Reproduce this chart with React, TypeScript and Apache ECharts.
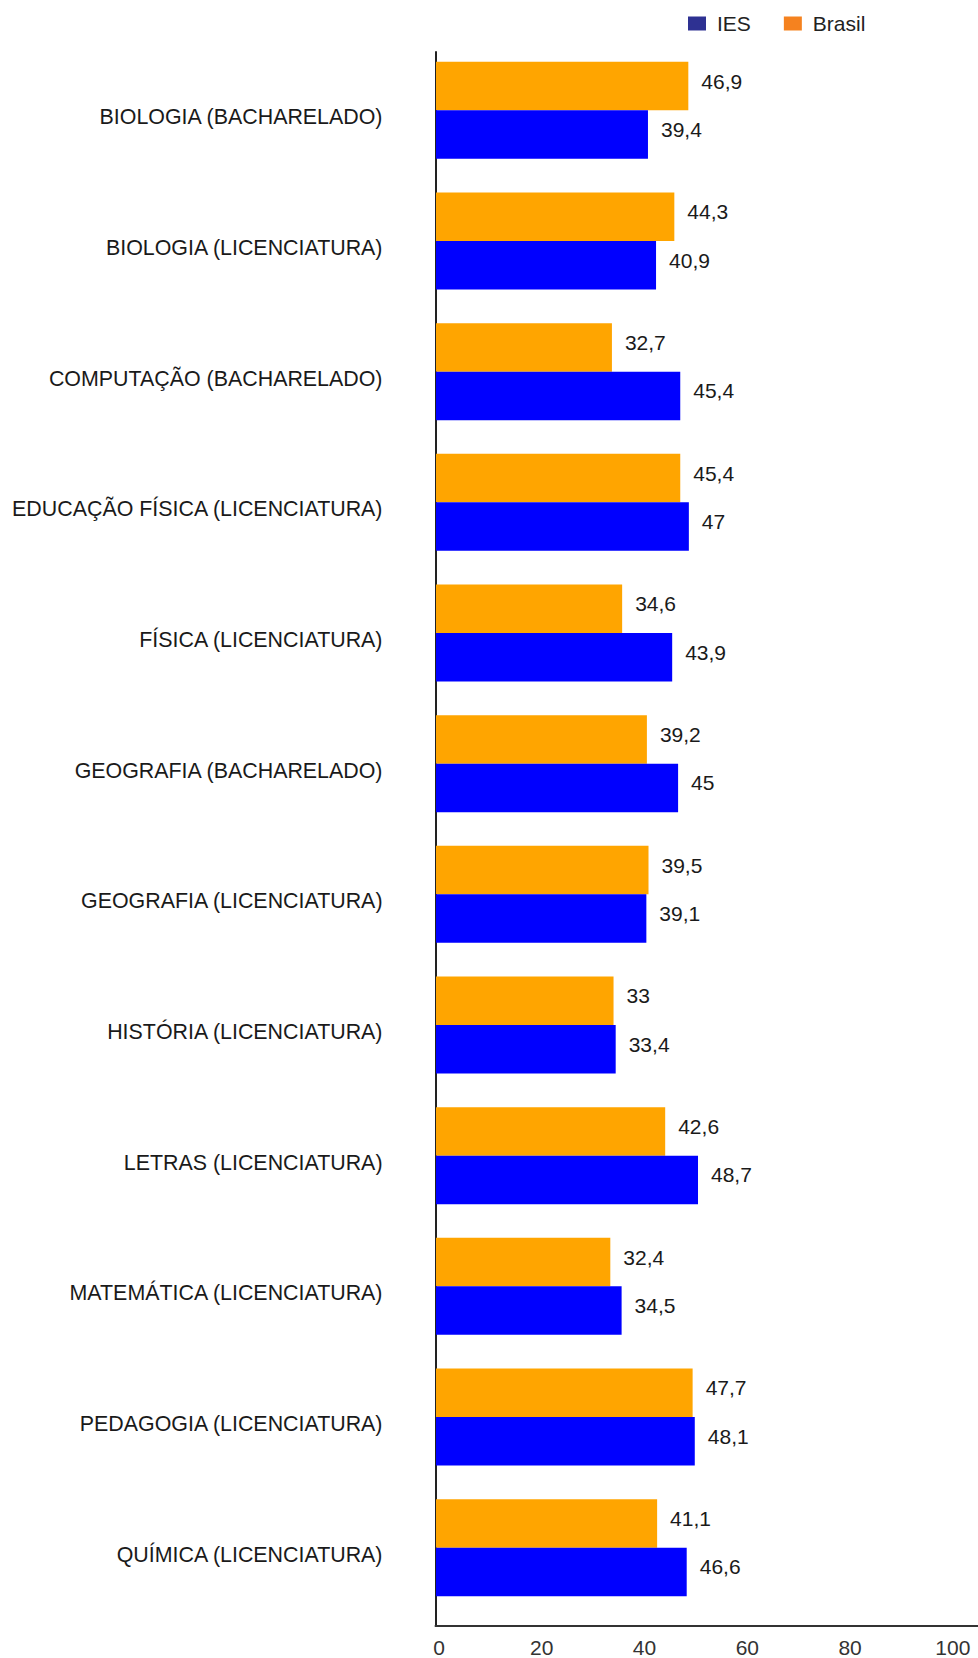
import React, { useEffect, useRef } from "react";
import * as echarts from "echarts";

const categories = [
  "BIOLOGIA (BACHARELADO)",
  "BIOLOGIA (LICENCIATURA)",
  "COMPUTAÇÃO (BACHARELADO)",
  "EDUCAÇÃO FÍSICA (LICENCIATURA)",
  "FÍSICA (LICENCIATURA)",
  "GEOGRAFIA (BACHARELADO)",
  "GEOGRAFIA (LICENCIATURA)",
  "HISTÓRIA (LICENCIATURA)",
  "LETRAS (LICENCIATURA)",
  "MATEMÁTICA (LICENCIATURA)",
  "PEDAGOGIA (LICENCIATURA)",
  "QUÍMICA (LICENCIATURA)",
];

const iesValues = [39.4, 40.9, 45.4, 47, 43.9, 45, 39.1, 33.4, 48.7, 34.5, 48.1, 46.6];
const brasilValues = [46.9, 44.3, 32.7, 45.4, 34.6, 39.2, 39.5, 33, 42.6, 32.4, 47.7, 41.1];

const tickLabels = [0, 20, 40, 60, 80, 100];

const fmt = (v: number) => String(v).replace(".", ",");

const FONT = "Liberation Sans, Arial, sans-serif";

export default function App() {
  const ref = useRef<HTMLDivElement>(null);
  useEffect(() => {
    if (!ref.current) return;
    const chart = echarts.init(ref.current, null, { renderer: "svg" });
    const labelStyle = {
      show: true,
      position: "right" as const,
      distance: 13,
      offset: [0, -5],
      fontSize: 21,
      color: "#1a1a1a",
      fontFamily: FONT,
      formatter: (p: any) => fmt(p.value),
    };
    chart.setOption({
      animation: false,
      textStyle: { fontFamily: FONT },
      legend: {
        left: 683,
        top: 8,
        icon: "rect",
        itemWidth: 18,
        itemHeight: 14,
        itemGap: 33,
        textStyle: { fontSize: 21, color: "#222", padding: [0, 0, 0, 6], fontFamily: FONT },
        data: [
          { name: "IES", itemStyle: { color: "#2E3192" } },
          { name: "Brasil", itemStyle: { color: "#F5821F" } },
        ],
      },
      grid: [
        { left: 436, top: 45, width: 538, height: 1568 },
        { left: 435.5, top: 52, width: 542.5, height: 1568 },
        { left: 435.5, top: 52, width: 542.5, height: 1574 },
        { left: 439, top: 52, width: 538, height: 1574 },
      ],
      xAxis: [
        { gridIndex: 0, type: "value", min: 0, max: 100, show: false },
        { gridIndex: 1, type: "value", min: 0, max: 100, show: false },
        {
          gridIndex: 2,
          type: "value",
          min: 0,
          max: 100,
          axisLine: { show: true, lineStyle: { color: "#333", width: 2 } },
          axisTick: { show: false },
          splitLine: { show: false },
          axisLabel: { show: false },
        },
        {
          gridIndex: 3,
          type: "value",
          min: tickLabels[0],
          max: 104.7,
          interval: 20,
          axisLine: { show: false },
          axisTick: { show: false },
          splitLine: { show: false },
          axisLabel: {
            fontSize: 21,
            color: "#333",
            margin: 12,
            showMaxLabel: false,
            fontFamily: FONT,
            formatter: (v: number) => (tickLabels.includes(v) ? String(v) : ""),
          },
        },
      ],
      yAxis: [
        { gridIndex: 0, type: "category", inverse: true, data: categories, show: false },
        {
          gridIndex: 1,
          type: "category",
          inverse: true,
          data: categories,
          axisLine: { show: false },
          axisTick: { show: false },
          splitLine: { show: false },
          axisLabel: { fontSize: 21.4, color: "#1a1a1a", margin: 53, fontFamily: FONT },
        },
        {
          gridIndex: 2,
          type: "category",
          inverse: true,
          data: categories,
          axisLine: { show: true, lineStyle: { color: "#222", width: 2 } },
          axisTick: { show: false },
          splitLine: { show: false },
          axisLabel: { show: false },
        },
        { gridIndex: 3, type: "category", inverse: true, data: categories, show: false },
      ],
      series: [
        {
          name: "Brasil",
          type: "bar",
          xAxisIndex: 0,
          yAxisIndex: 0,
          data: brasilValues,
          barWidth: 48.5,
          barGap: "0%",
          itemStyle: { color: "#FFA500" },
          label: labelStyle,
        },
        {
          name: "IES",
          type: "bar",
          xAxisIndex: 0,
          yAxisIndex: 0,
          data: iesValues,
          barWidth: 48.5,
          barGap: "0%",
          itemStyle: { color: "#0000FF" },
          label: labelStyle,
        },
      ],
    });
    return () => chart.dispose();
  }, []);
  return (
    <div
      ref={ref}
      style={{ position: "absolute", left: 0, top: 0, width: 978, height: 1658 }}
    />
  );
}
